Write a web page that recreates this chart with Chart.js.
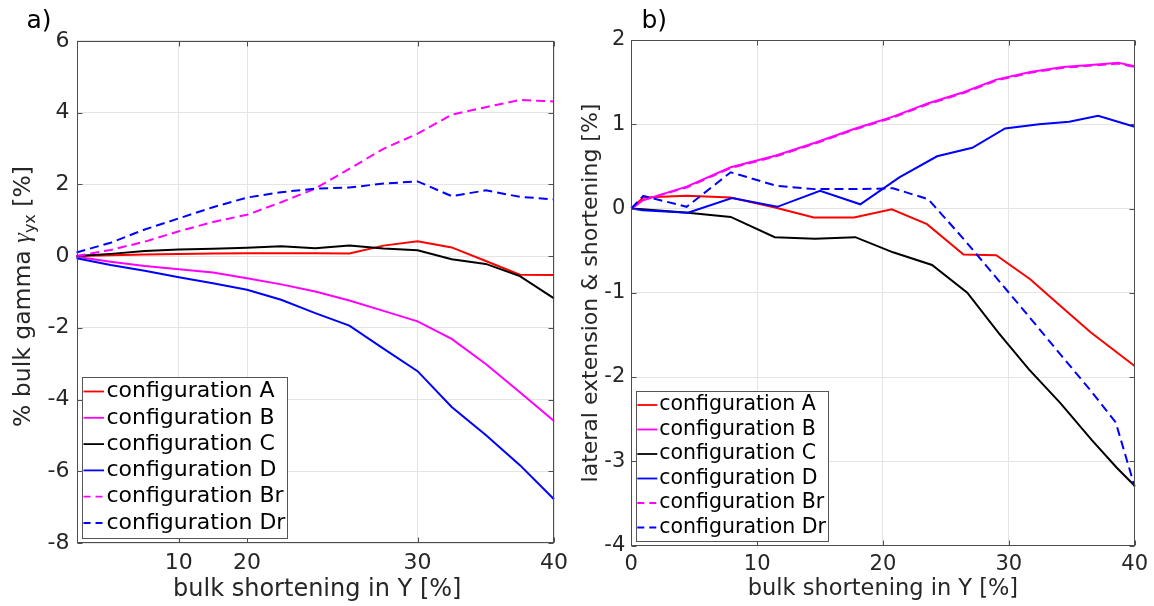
<!DOCTYPE html>
<html><head><meta charset="utf-8">
<script src="https://cdn.jsdelivr.net/npm/chart.js@4.4.1/dist/chart.umd.min.js"></script>
<style>
html,body{margin:0;padding:0;background:#fff;}
#wrap{position:relative;width:1154px;height:606px;overflow:hidden;background:#fff;}
canvas{position:absolute;top:0;}
#cA{left:0;} #cB{left:577px;}
</style></head><body>
<div id="wrap"><canvas id="cA" width="577" height="606"></canvas><canvas id="cB" width="577" height="606"></canvas></div>
<script>
// ---------- shared series info ----------
const seriesNames  = ['configuration A','configuration B','configuration C','configuration D','configuration Br','configuration Dr'];
const seriesColors = ['#ff0000','#ff00ff','#000000','#0000ff','#ff00ff','#0000ff'];
const seriesDashed = [false,false,false,false,true,true];

// ---------- panel a) : bulk gamma vs. step ----------
const stepIdx = [0,1,2,3,4,5,6,7,8,9,10,11,12,13,14];
const gammaTickPos = [3,5,10,14];
const gammaTickLabels = ['10','20','30','40'];
const gammaA  = [0.00,0.02,0.04,0.06,0.07,0.08,0.08,0.08,0.07,0.29,0.41,0.24,-0.14,-0.52,-0.53];
const gammaB  = [-0.02,-0.16,-0.28,-0.37,-0.46,-0.62,-0.79,-0.99,-1.24,-1.53,-1.82,-2.31,-3.01,-3.80,-4.60];
const gammaC  = [0.00,0.06,0.14,0.18,0.20,0.23,0.27,0.22,0.29,0.21,0.16,-0.09,-0.22,-0.56,-1.18];
const gammaD  = [-0.06,-0.25,-0.41,-0.59,-0.76,-0.94,-1.22,-1.59,-1.94,-2.58,-3.21,-4.21,-4.99,-5.83,-6.78];
const gammaBr = [0.00,0.17,0.40,0.69,0.95,1.15,1.50,1.88,2.43,2.99,3.41,3.94,4.15,4.35,4.31];
const gammaDr = [0.10,0.37,0.74,1.05,1.36,1.63,1.78,1.88,1.91,2.02,2.08,1.67,1.83,1.65,1.58];
const gammaYTicks = [-8,-6,-4,-2,0,2,4,6];

// ---------- panel b) : lateral extension & shortening ----------
const latXA  = [0,0.95,4.4,7.9,11.5,14.5,17.7,20.7,23.5,26.4,29.0,31.7,34.2,36.5,40];
const latA   = [0,0.13,0.15,0.13,0.01,-0.107,-0.107,-0.01,-0.186,-0.546,-0.554,-0.84,-1.17,-1.47,-1.87];
const latXB  = [0,0.95,4.4,7.9,11.5,14.6,17.8,20.8,23.6,26.4,29.0,31.7,34.3,37.0,38.7,40];
const latB   = [0,0.10,0.26,0.49,0.63,0.78,0.95,1.09,1.25,1.38,1.53,1.62,1.68,1.71,1.73,1.69];
const latXC  = [0,0.9,4.5,7.9,11.4,14.6,17.8,20.8,23.9,26.7,29.2,31.6,34.1,36.6,38.6,40];
const latC   = [0,-0.01,-0.05,-0.10,-0.34,-0.36,-0.34,-0.52,-0.67,-1.00,-1.48,-1.91,-2.31,-2.75,-3.08,-3.29];
const latXD  = [0,0.9,4.5,8.0,11.6,15.0,18.2,21.3,24.3,27.1,29.7,32.4,34.8,37.1,40];
const latD   = [0,-0.02,-0.05,0.125,0.02,0.21,0.05,0.37,0.62,0.72,0.95,1.00,1.03,1.10,0.97];
const latXBr = [0,0.95,4.4,7.9,11.5,14.6,17.8,20.8,23.6,26.4,29.0,31.7,34.3,37.0,38.7,40];
const latBr  = [0,0.10,0.25,0.48,0.62,0.77,0.94,1.08,1.24,1.37,1.52,1.61,1.67,1.70,1.72,1.68];
const latXDr = [0,0.95,4.4,7.9,11.5,14.6,17.8,20.8,23.6,26.4,29.0,31.7,34.2,36.5,38.5,40];
const latDr  = [0,0.15,0.02,0.43,0.27,0.23,0.23,0.24,0.11,-0.36,-0.82,-1.30,-1.75,-2.16,-2.54,-3.30];

// ---------- texts ----------
const xTitle = 'bulk shortening in Y [%]';
const yTitleA = ['% bulk gamma ', '\u03B3', 'yx', ' [%]'];
const yTitleB = 'lateral extension & shortening [%]';
const panelLabels = ['a)', 'b)'];

const FONT = '"DejaVu Sans", sans-serif';
const AXIS = '#4d4d4d';
const TICKTXT = '#262626';
Chart.defaults.font.family = FONT;

function pts(xs, ys) { return xs.map((x, i) => ({x: x, y: ys[i]})); }
function makeDatasets(dataList) {
  return dataList.map((d, i) => ({
    label: seriesNames[i],
    data: d,
    borderColor: seriesColors[i],
    backgroundColor: seriesColors[i],
    borderWidth: 2,
    borderDash: seriesDashed[i] ? [9, 5] : [],
    pointRadius: 0,
    tension: 0,
    fill: false,
    clip: 6,
    order: dataList.length - 1 - i
  }));
}

const decor = {
  id: 'decor',
  afterDraw(chart, args, o) {
    const ctx = chart.ctx, a = chart.chartArea;
    const xs = chart.scales.x, ys = chart.scales.y;
    ctx.save();
    // box
    ctx.strokeStyle = AXIS; ctx.lineWidth = 1; ctx.setLineDash([]);
    const L0 = Math.round(a.left) + 0.5, R0 = Math.round(a.right) - 0.5;
    const T0 = Math.round(a.top) + 0.5, B0 = Math.round(a.bottom) - 0.5;
    ctx.strokeRect(L0, T0, R0 - L0, B0 - T0);
    // inner tick marks
    ctx.beginPath();
    xs.ticks.forEach(t => {
      const p = Math.round(xs.getPixelForValue(t.value)) + 0.5;
      ctx.moveTo(p, B0); ctx.lineTo(p, B0 - 5);
      ctx.moveTo(p, T0); ctx.lineTo(p, T0 + 5);
    });
    ys.ticks.forEach(t => {
      const p = Math.round(ys.getPixelForValue(t.value)) + 0.5;
      ctx.moveTo(L0, p); ctx.lineTo(L0 + 5, p);
      ctx.moveTo(R0, p); ctx.lineTo(R0 - 5, p);
    });
    ctx.stroke();
    // legend
    const L = o.legend;
    ctx.fillStyle = '#fff';
    ctx.fillRect(L.x1, L.y1, L.x2 - L.x1, L.y2 - L.y1);
    ctx.strokeStyle = '#555'; ctx.lineWidth = 1;
    ctx.strokeRect(L.x1 + 0.5, L.y1 + 0.5, L.x2 - L.x1, L.y2 - L.y1);
    chart.data.datasets.forEach((ds, i) => {
      const y = L.row0 + i * L.step;
      ctx.strokeStyle = ds.borderColor; ctx.lineWidth = 1.8;
      ctx.setLineDash(ds.borderDash.length ? [7, 5] : []);
      ctx.beginPath(); ctx.moveTo(L.s1, y); ctx.lineTo(L.s2, y); ctx.stroke();
      ctx.setLineDash([]);
      ctx.fillStyle = '#000'; ctx.font = L.size + 'px ' + FONT;
      ctx.textAlign = 'left'; ctx.textBaseline = 'middle';
      ctx.fillText(ds.label, L.tx, y);
    });
    // x title
    ctx.fillStyle = TICKTXT; ctx.textBaseline = 'alphabetic'; ctx.textAlign = 'center';
    ctx.font = o.xTitleSize + 'px ' + FONT;
    ctx.fillText(xTitle, (a.left + a.right) / 2 + o.xTitleDx, o.xTitleY);
    // y title
    ctx.save();
    ctx.translate(o.yTitleX, o.yTitleY);
    ctx.rotate(-Math.PI / 2);
    ctx.textAlign = 'left';
    if (Array.isArray(o.yTitle)) {
      const parts = [
        {t: o.yTitle[0], f: o.titleSize + 'px ' + FONT, dy: 0},
        {t: o.yTitle[1], f: 'italic ' + (o.titleSize + 1) + 'px "Liberation Serif", serif', dy: 0},
        {t: o.yTitle[2], f: Math.round(o.titleSize * 0.7) + 'px ' + FONT, dy: 5},
        {t: o.yTitle[3], f: o.titleSize + 'px ' + FONT, dy: 0}
      ];
      let total = 0;
      parts.forEach(p => { ctx.font = p.f; p.w = ctx.measureText(p.t).width; total += p.w; });
      let x = -total / 2;
      parts.forEach(p => { ctx.font = p.f; ctx.fillText(p.t, x, p.dy); x += p.w; });
    } else {
      ctx.textAlign = 'center';
      ctx.font = o.titleSize + 'px ' + FONT;
      ctx.fillText(o.yTitle, 0, 0);
    }
    ctx.restore();
    // panel label
    ctx.fillStyle = '#000'; ctx.textAlign = 'left'; ctx.textBaseline = 'alphabetic';
    ctx.font = '25px ' + FONT;
    ctx.fillText(o.panel, o.panelX, o.panelY);
    ctx.restore();
  }
};

function gridOpts() {
  return {color: '#e4e4e4', lineWidth: 1, drawTicks: false};
}

// ---------- chart a ----------
new Chart(document.getElementById('cA'), {
  type: 'line',
  data: {
    datasets: makeDatasets([
      pts(stepIdx, gammaA), pts(stepIdx, gammaB), pts(stepIdx, gammaC),
      pts(stepIdx, gammaD), pts(stepIdx, gammaBr), pts(stepIdx, gammaDr)
    ])
  },
  options: {
    responsive: false, animation: false, devicePixelRatio: 1,
    layout: {padding: {left: 0, top: 40.8, right: 23, bottom: 0}},
    plugins: {
      legend: {display: false}, tooltip: {enabled: false},
      decor: {
        legend: {x1: 82, y1: 377, x2: 287, y2: 538, row0: 391.5, step: 26.3, s1: 83.5, s2: 104, tx: 106.5, size: 22},
        titleSize: 23.5, xTitleSize: 24, xTitleDx: 2, xTitleY: 596,
        yTitle: yTitleA, yTitleX: 30, yTitleY: 296.5,
        panel: panelLabels[0], panelX: 26.5, panelY: 28
      }
    },
    scales: {
      x: {
        type: 'linear', min: 0, max: 14,
        grid: gridOpts(), border: {display: false},
        afterBuildTicks: s => { s.ticks = gammaTickPos.map(v => ({value: v})); },
        afterFit: s => { s.height = 63; },
        ticks: {
          autoSkip: false, maxRotation: 0, padding: 7, color: TICKTXT, font: {size: 22},
          callback: v => gammaTickLabels[gammaTickPos.indexOf(v)]
        }
      },
      y: {
        type: 'linear', min: -8, max: 6,
        grid: gridOpts(), border: {display: false},
        afterBuildTicks: s => { s.ticks = gammaYTicks.map(v => ({value: v})); },
        afterFit: s => { s.width = 76.5; },
        ticks: {padding: 7, color: TICKTXT, font: {size: 22}, callback: v => String(v)}
      }
    }
  },
  plugins: [decor]
});

// ---------- chart b ----------
new Chart(document.getElementById('cB'), {
  type: 'line',
  data: {
    datasets: makeDatasets([
      pts(latXA, latA), pts(latXB, latB), pts(latXC, latC),
      pts(latXD, latD), pts(latXBr, latBr), pts(latXDr, latDr)
    ])
  },
  options: {
    responsive: false, animation: false, devicePixelRatio: 1,
    layout: {padding: {left: 0, top: 40, right: 15.5, bottom: 0}},
    plugins: {
      legend: {display: false}, tooltip: {enabled: false},
      decor: {
        legend: {x1: 59, y1: 391, x2: 251, y2: 541, row0: 405, step: 24.5, s1: 60.3, s2: 80.3, tx: 82.3, size: 20.5},
        titleSize: 22, xTitleSize: 22.5, xTitleDx: 0, xTitleY: 595,
        yTitle: yTitleB, yTitleX: 20, yTitleY: 293,
        panel: panelLabels[1], panelX: 64.5, panelY: 28
      }
    },
    scales: {
      x: {
        type: 'linear', min: 0, max: 40,
        grid: gridOpts(), border: {display: false},
        afterFit: s => { s.height = 60.5; },
        ticks: {stepSize: 10, autoSkip: false, maxRotation: 0, padding: 6, color: TICKTXT, font: {size: 21}}
      },
      y: {
        type: 'linear', min: -4, max: 2,
        grid: gridOpts(), border: {display: false},
        afterFit: s => { s.width = 54.3; },
        ticks: {stepSize: 1, padding: 6, color: TICKTXT, font: {size: 21}}
      }
    }
  },
  plugins: [decor]
});
</script>
</body></html>
